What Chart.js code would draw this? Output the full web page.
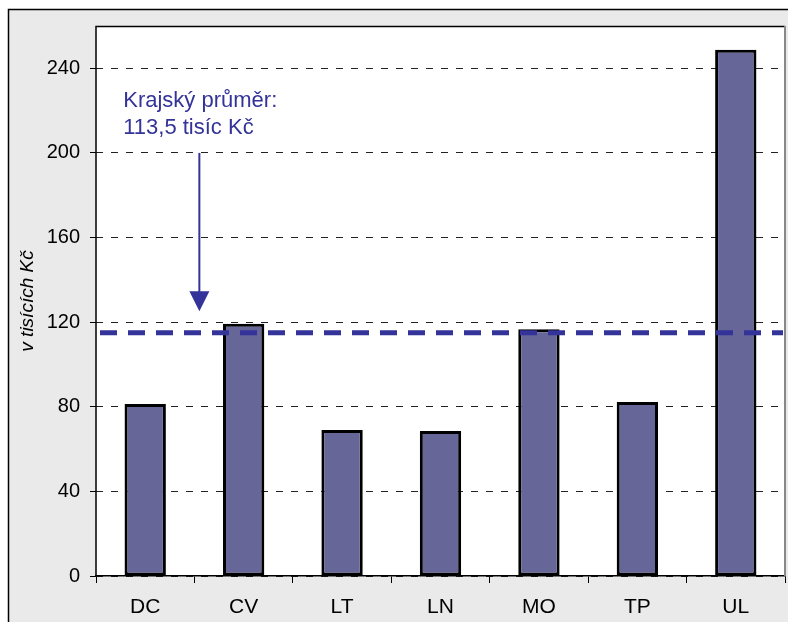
<!DOCTYPE html>
<html lang="cs">
<head>
    <meta charset="UTF-8">
    <title>Krajský průměr</title>
    <script src="https://cdn.jsdelivr.net/npm/chart.js"></script>
    <style>
        body { margin: 0; background: #fff; }
        #chart { display: block; }
    </style>
</head>
<body>
    <canvas id="chart" width="788" height="622"></canvas>

    <script>
        const labels = ['DC', 'CV', 'LT', 'LN', 'MO', 'TP', 'UL'];
        const values = [81.3, 119.2, 69, 68.5, 116.7, 82.2, 248.8];
        const yTicks = [0, 40, 80, 120, 160, 200, 240];
        const averageValue = 115;   // where the dashed line sits
        const noteLines = ['Krajský průměr:', '113,5 tisíc Kč'];

        const FONT = "'Liberation Sans', Arial, sans-serif";
        const NOTE_COLOR = '#333399';

        // background, plot frame, average line, note and arrow
        const decor = {
            id: 'decor',
            beforeDraw(chart) {
                const { ctx, chartArea: a } = chart;
                ctx.save();
                ctx.fillStyle = '#fff';
                ctx.fillRect(0, 0, chart.width, chart.height);
                ctx.fillStyle = '#eaeaea';
                ctx.fillRect(8, 9, chart.width, chart.height);
                ctx.strokeStyle = '#000';
                ctx.lineWidth = 1.5;
                ctx.beginPath();
                ctx.moveTo(8.5, chart.height);
                ctx.lineTo(8.5, 9.5);
                ctx.lineTo(chart.width, 9.5);
                ctx.stroke();
                ctx.fillStyle = '#fff';
                ctx.fillRect(a.left, a.top, a.right - a.left, a.bottom - a.top);
                ctx.restore();
            },
            afterDatasetsDraw(chart) {
                const { ctx, chartArea: a, scales: { x, y } } = chart;
                ctx.save();
                // frame: left + top black, right gray
                ctx.strokeStyle = '#000';
                ctx.lineWidth = 1.5;
                ctx.beginPath();
                ctx.moveTo(a.left, a.bottom);
                ctx.lineTo(a.left, a.top + 0.5);
                ctx.lineTo(a.right, a.top + 0.5);
                ctx.stroke();
                ctx.strokeStyle = '#888';
                ctx.lineWidth = 2;
                ctx.beginPath();
                ctx.moveTo(a.right, a.top);
                ctx.lineTo(a.right, a.bottom);
                ctx.stroke();

                // average line
                const ay = y.getPixelForValue(averageValue);
                ctx.strokeStyle = NOTE_COLOR;
                ctx.lineWidth = 5;
                ctx.setLineDash([17, 11]);
                ctx.beginPath();
                ctx.moveTo(a.left + 4, ay);
                ctx.lineTo(a.right - 2, ay);
                ctx.stroke();
                ctx.setLineDash([]);

                // note text
                ctx.fillStyle = NOTE_COLOR;
                ctx.font = '22px ' + FONT;
                ctx.textAlign = 'left';
                ctx.textBaseline = 'middle';
                const tx = x.getPixelForValue(0) - 22;
                ctx.fillText(noteLines[0], tx, y.getPixelForValue(224.4));
                ctx.fillText(noteLines[1], tx, y.getPixelForValue(211.7));

                // arrow
                const ax = x.getPixelForValue(0.55);
                const top = y.getPixelForValue(200);
                const tip = y.getPixelForValue(125.2);
                ctx.strokeStyle = NOTE_COLOR;
                ctx.lineWidth = 2;
                ctx.beginPath();
                ctx.moveTo(ax, top);
                ctx.lineTo(ax, tip - 18);
                ctx.stroke();
                ctx.beginPath();
                ctx.moveTo(ax - 10, tip - 20);
                ctx.lineTo(ax + 10, tip - 20);
                ctx.lineTo(ax, tip);
                ctx.closePath();
                ctx.fill();
                ctx.restore();
            }
        };

        const ctx = document.getElementById('chart').getContext('2d');
        new Chart(ctx, {
            type: 'bar',
            data: {
                labels: labels,
                datasets: [{
                    data: values,
                    backgroundColor: '#666699',
                    borderColor: '#000',
                    borderWidth: 3,
                    borderSkipped: false,
                    barPercentage: 0.42,
                    categoryPercentage: 1
                }]
            },
            options: {
                responsive: false,
                animation: false,
                events: [],
                layout: { padding: { left: 16, top: 26, right: 3, bottom: 0 } },
                plugins: {
                    legend: { display: false },
                    tooltip: { enabled: false }
                },
                scales: {
                    x: {
                        afterFit: s => { s.height = 46; },
                        grid: {
                            offset: true,
                            drawOnChartArea: false,
                            tickLength: 7,
                            color: '#000',
                            lineWidth: 1
                        },
                        border: { display: true, color: '#000', width: 1.5 },
                        ticks: {
                            color: '#000',
                            padding: 12,
                            maxRotation: 0,
                            font: { family: FONT, size: 21 }
                        }
                    },
                    y: {
                        min: 0,
                        max: 260,
                        afterFit: s => { s.width = 80; },
                        afterBuildTicks: s => {
                            s.ticks = yTicks.map(v => ({ value: v }));
                        },
                        grid: {
                            color: '#222',
                            lineWidth: 1,
                            tickLength: 6,
                            tickBorderDash: [],
                            tickColor: '#000'
                        },
                        border: { display: false, dash: [7, 8] },
                        ticks: {
                            color: '#000',
                            padding: 10,
                            font: { family: FONT, size: 20 }
                        },
                        title: {
                            display: true,
                            text: 'v tisících Kč',
                            color: '#000',
                            padding: 0,
                            font: { family: FONT, size: 19, style: 'italic' }
                        }
                    }
                }
            },
            plugins: [decor]
        });
    </script>
</body>
</html>
